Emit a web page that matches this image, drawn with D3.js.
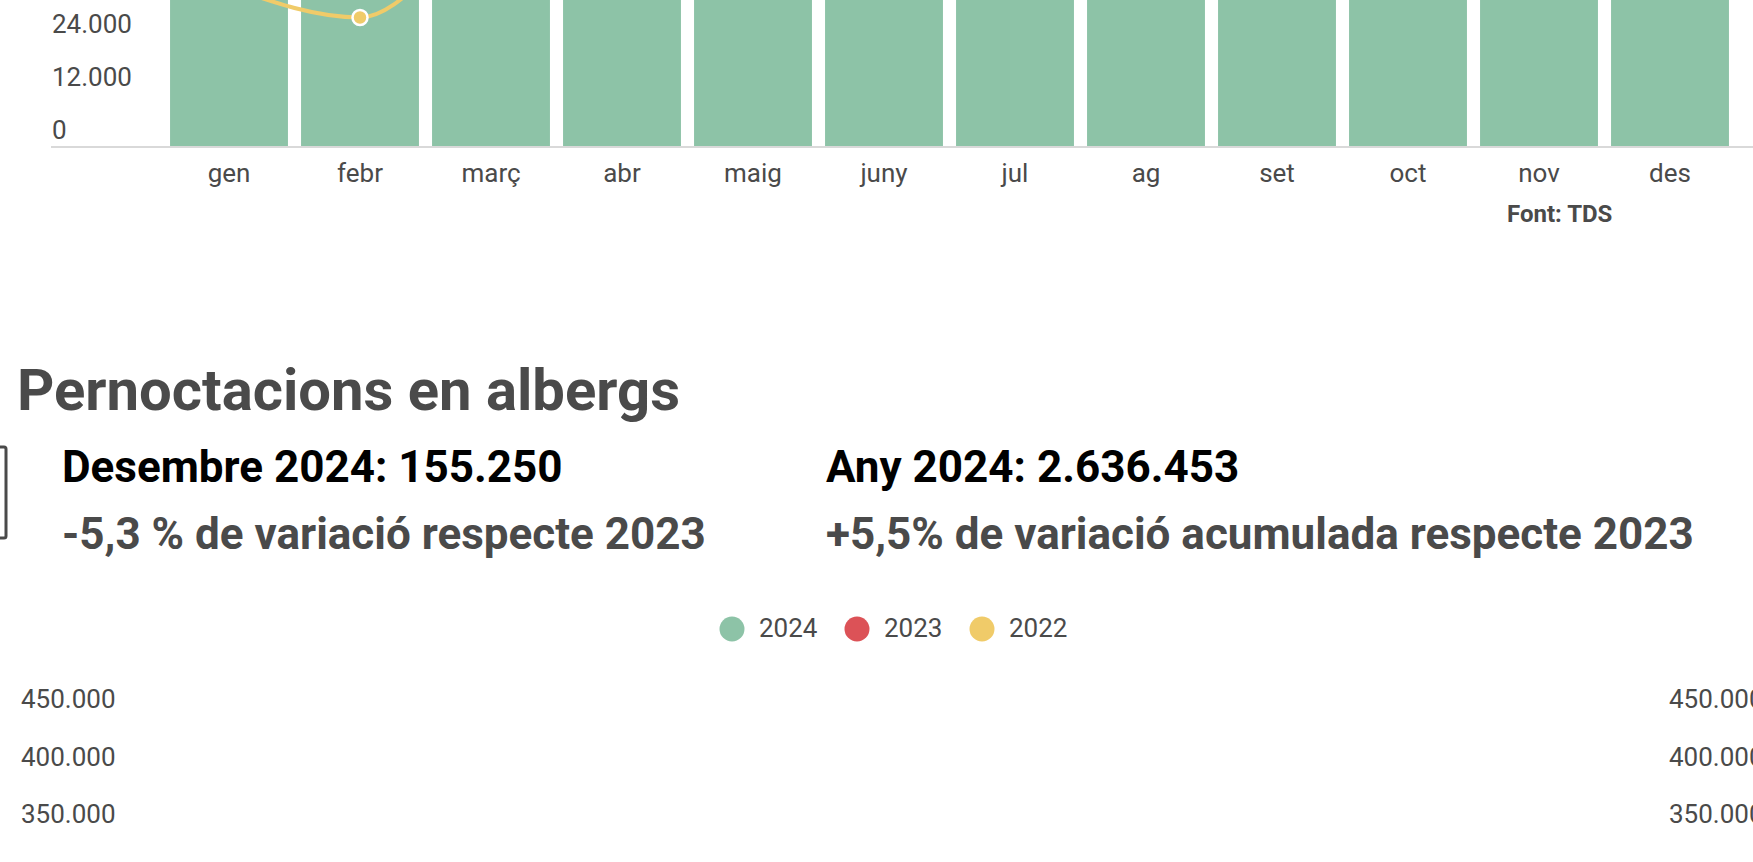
<!DOCTYPE html>
<html>
<head>
<meta charset="utf-8">
<script src="https://cdn.jsdelivr.net/npm/d3@7"></script>
<style>
  body { margin: 0; background: #fff; overflow: hidden; }
  svg { display: block; font-family: Roboto, sans-serif; }
</style>
</head>
<body>
<svg id="canvas" width="1753" height="862"></svg>
<script>
let months = ["gen", "febr", "març", "abr", "maig", "juny", "jul", "ag", "set", "oct", "nov", "des"]

// upper chart (only its bottom strip is on screen)
let upper2024 = [41500, 43200, 52800, 55100, 58900, 61300, 66800, 64200, 60700, 58300, 47900, 46100]
let upper2023 = [39800, 40600, 50200, 53400, 56800, 59900, 64500, 62700, 58800, 56100, 45200, 43800]
let upper2022 = [36000, 29100, 48000, 50000, 53000, 57000, 62000, 60000, 56000, 54000, 44000, 41000]
let upperTicks = [0, 12000, 24000, 36000, 48000, 60000]

// albergs
let legendYears = ["2024", "2023", "2022"]
let legendColors = ["#8dc3a7", "#dc5257", "#f0cb69"]
let albergs2024 = [160000, 171000, 215000, 240000, 240000, 250000, 280000, 270000, 250000, 225000, 180000, 155250]
let albergs2023 = [150000, 160000, 205000, 225000, 230000, 240000, 265000, 255000, 235000, 215000, 155000, 163900]
let albergs2022 = [95000, 115000, 170000, 200000, 210000, 225000, 255000, 250000, 225000, 205000, 150000, 150000]
let albergTicks = [0, 50000, 100000, 150000, 200000, 250000, 300000, 350000, 400000, 450000]

let headline = ["Desembre 2024: 155.250", "Any 2024: 2.636.453"]
let variation = ["-5,3 % de variació respecte 2023", "+5,5% de variació acumulada respecte 2023"]

let fmt = d3.formatLocale({ decimal: ",", thousands: ".", grouping: [3], currency: ["", "€"] }).format(",d")

let canvas = d3.select("#canvas")
let grey = "#4a4a4a"

let drawMonths = (g, x, y, bars, lines, r) => {
  g.selectAll("rect.bar")
  .data(bars)
  .enter()
  .append("rect")
  .attr("class", "bar")
  .attr("x", (d, i) => x(months[i]))
  .attr("width", x.bandwidth())
  .attr("y", (d) => y(d))
  .attr("height", (d) => y(0) - y(d))
  .attr("fill", legendColors[0])

  let line = d3.line()
  .x((d, i) => x(months[i]) + x.bandwidth() / 2)
  .y((d) => y(d))
  .curve(d3.curveMonotoneX)

  lines.forEach((vals, k) => {
    let color = legendColors[k + 1]
    g.append("path")
    .attr("d", line(vals))
    .attr("fill", "none")
    .attr("stroke", color)
    .attr("stroke-width", 4)
    g.selectAll("circle.p" + k)
    .data(vals)
    .enter()
    .append("circle")
    .attr("class", "p" + k)
    .attr("cx", (d, i) => x(months[i]) + x.bandwidth() / 2)
    .attr("cy", (d) => y(d))
    .attr("r", r)
    .attr("fill", color)
    .attr("stroke", "#fff")
    .attr("stroke-width", 2.5)
  })
}

// ---- upper chart
let xUp = d3.scaleBand().domain(months).range([163.5, 1735.5]).paddingInner(0.1).paddingOuter(0.05)
let yUp = d3.scaleLinear().domain([0, 12000]).range([146, 93])

let upper = canvas.append("g")
drawMonths(upper, xUp, yUp, upper2024, [upper2023, upper2022], 7.5)

upper.append("line")
.attr("x1", 51).attr("x2", 1753)
.attr("y1", yUp(0) + 1).attr("y2", yUp(0) + 1)
.attr("stroke", "#d9d9d9")
.attr("stroke-width", 2)

upper.selectAll("text.ytick")
.data(upperTicks)
.enter()
.append("text")
.attr("class", "ytick")
.attr("x", 52)
.attr("y", (d) => yUp(d) - 7)
.attr("fill", grey)
.style("font-size", "26px")
.text((d) => fmt(d))

upper.selectAll("text.xtick")
.data(months)
.enter()
.append("text")
.attr("class", "xtick")
.attr("x", (d) => xUp(d) + xUp.bandwidth() / 2)
.attr("y", 182)
.attr("text-anchor", "middle")
.attr("fill", grey)
.style("font-size", "26px")
.text((d) => d)

upper.append("text")
.attr("x", 1507)
.attr("y", 222)
.attr("fill", grey)
.style("font-size", "24px")
.style("font-weight", "bold")
.text("Font: TDS")

// ---- albergs header
canvas.append("rect")
.attr("x", -20).attr("y", 447)
.attr("width", 26).attr("height", 91)
.attr("rx", 2)
.attr("fill", "none")
.attr("stroke", grey)
.attr("stroke-width", 3)

canvas.append("text")
.attr("x", 17)
.attr("y", 410)
.attr("fill", grey)
.style("font-size", "58px")
.style("font-weight", "bold")
.text("Pernoctacions en albergs")

let colX = [62, 826]
headline.forEach((t, i) => {
  canvas.append("text")
  .attr("x", colX[i]).attr("y", 482)
  .attr("fill", "#000")
  .style("font-size", "44px")
  .style("font-weight", "bold")
  .text(t)
  canvas.append("text")
  .attr("x", colX[i]).attr("y", 549)
  .attr("fill", grey)
  .style("font-size", "44px")
  .style("font-weight", "bold")
  .text(variation[i])
})

// legend
let legend = canvas.selectAll("g.legend")
.data(legendYears)
.enter()
.append("g")
.attr("class", "legend")
.attr("transform", (d, i) => `translate(${732 + i * 125}, 629)`)

legend.append("circle")
.attr("r", 12.5)
.attr("fill", (d, i) => legendColors[i])

legend.append("text")
.attr("x", 27)
.attr("y", 8)
.attr("fill", grey)
.style("font-size", "26px")
.text((d) => d)

// ---- albergs chart (continues below the window)
let xAlb = d3.scaleBand().domain(months).range([140, 1640]).paddingInner(0.1).paddingOuter(0.05)
let yAlb = d3.scaleLinear().domain([0, 50000]).range([1233.5, 1176])

let albergs = canvas.append("g")
drawMonths(albergs, xAlb, yAlb, albergs2024, [albergs2023, albergs2022], 7.5)

;[21, 1669].forEach((lx) => {
  albergs.selectAll("text.t" + lx)
  .data(albergTicks)
  .enter()
  .append("text")
  .attr("class", "t" + lx)
  .attr("x", lx)
  .attr("y", (d) => yAlb(d) - 8)
  .attr("fill", grey)
  .style("font-size", "26px")
  .text((d) => fmt(d))
})
</script>
</body>
</html>
